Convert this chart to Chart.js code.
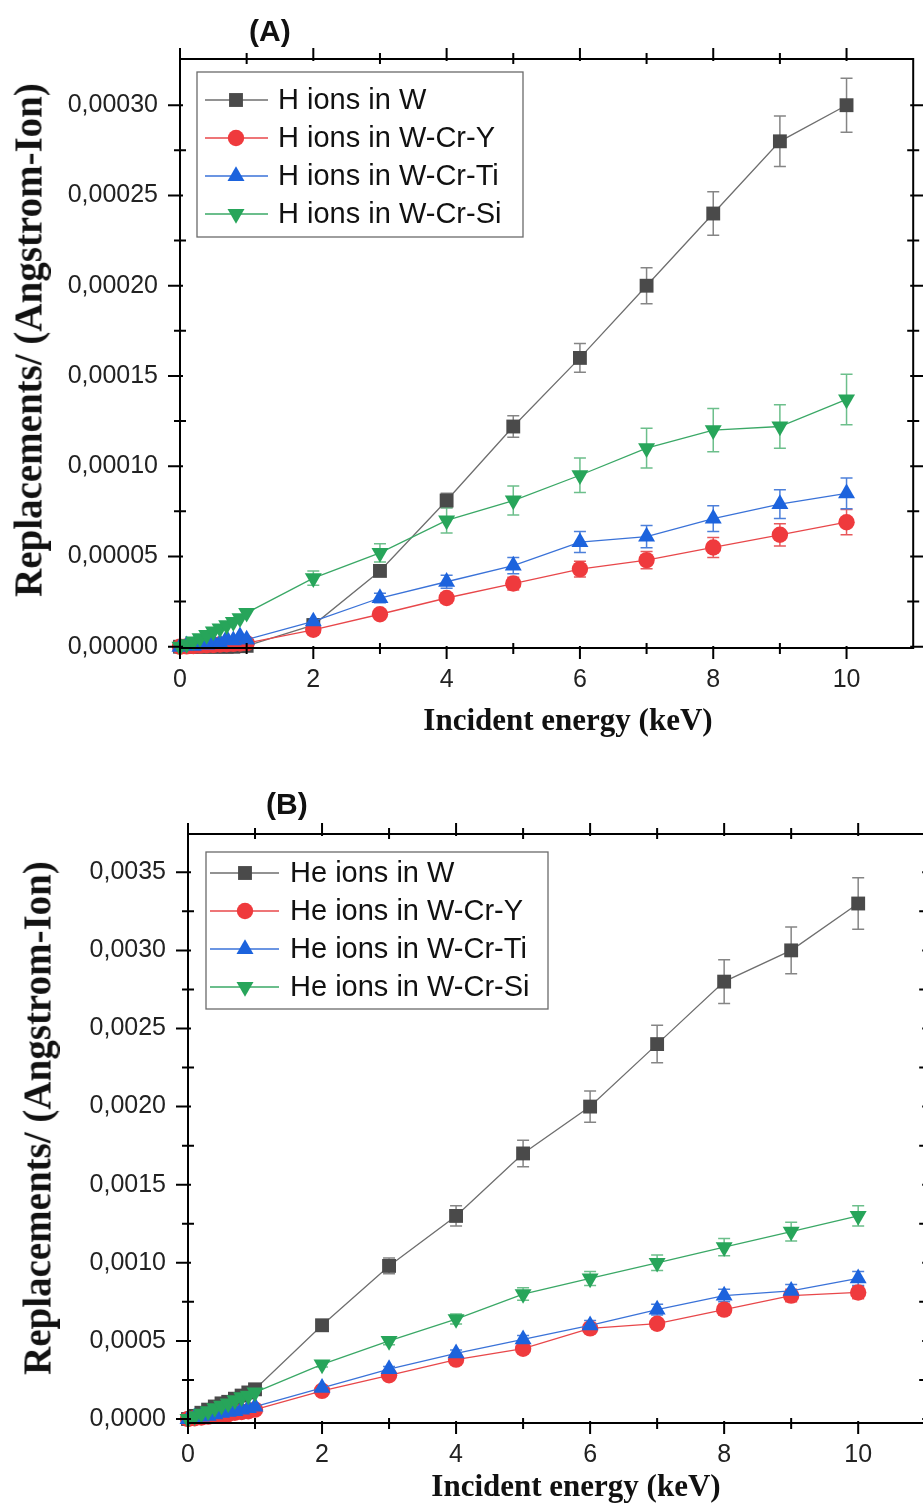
<!DOCTYPE html>
<html>
<head>
<meta charset="utf-8">
<script src="https://cdn.jsdelivr.net/npm/chart.js@4.4.1/dist/chart.umd.min.js"></script>
<style>
html, body { margin:0; padding:0; background:#fff; }
body { position:relative; width:923px; height:1512px; overflow:hidden; }
canvas { position:absolute; left:0; }
#chartA { top:0; }
#chartB { top:770px; }
.panel { position:absolute; font-family:"Liberation Sans", Arial, sans-serif; font-weight:bold; font-size:30px; line-height:30px; color:#111; }
.ttl { position:absolute; font-family:"Liberation Serif", "Times New Roman", serif; font-weight:bold; color:#111; white-space:nowrap; transform:translate(-50%,-50%); }
.ttl.y { font-size:39px; transform:translate(-50%,-50%) rotate(-90deg); }
.ttl.x { font-size:31px; }
</style>
</head>
<body>
<canvas id="chartA" width="923" height="770"></canvas>
<canvas id="chartB" width="935" height="742"></canvas>
<div class="panel" style="left:249px;top:16px">(A)</div>
<div class="panel" style="left:266px;top:789px">(B)</div>
<div class="ttl y" style="left:28px;top:340px">Replacements/ (Angstrom-Ion)</div>
<div class="ttl x" style="left:568px;top:720px">Incident energy (keV)</div>
<div class="ttl y" style="left:37px;top:1118px">Replacements/ (Angstrom-Ion)</div>
<div class="ttl x" style="left:576px;top:1486px">Incident energy (keV)</div>
<script>
// ---- data (energy in keV) ----
const energy = [0, 0.1, 0.2, 0.3, 0.4, 0.5, 0.6, 0.7, 0.8, 0.9, 1, 2, 3, 4, 5, 6, 7, 8, 9, 10];

// (A) H ions
const namesA = ["H ions in W", "H ions in W-Cr-Y", "H ions in W-Cr-Ti", "H ions in W-Cr-Si"];
const hW     = [0, 0, 0, 0, 0, 0, 0, 0, 0, 0.0000003, 0.0000005, 0.000012, 0.000042, 0.000081, 0.000122, 0.00016, 0.0002, 0.00024, 0.00028, 0.0003];
const hWCrY  = [0, 0.0000002, 0.0000004, 0.0000006, 0.0000008, 0.000001, 0.0000012, 0.0000014, 0.0000016, 0.0000018, 0.000002, 0.0000094, 0.000018, 0.000027, 0.000035, 0.000043, 0.000048, 0.000055, 0.000062, 0.000069];
const hWCrTi = [0, 0.0000008, 0.0000005, 0.0000018, 0.0000012, 0.0000028, 0.000002, 0.0000045, 0.0000035, 0.0000058, 0.000004, 0.000014, 0.000027, 0.000036, 0.000045, 0.000058, 0.000061, 0.000071, 0.000079, 0.000085];
const hWCrSi = [0, 0.0000015, 0.000003, 0.0000048, 0.0000065, 0.0000085, 0.0000102, 0.000012, 0.0000138, 0.0000158, 0.0000188, 0.000038, 0.000052, 0.00007, 0.000081, 0.000095, 0.00011, 0.00012, 0.000122, 0.000137];
const hWErr     = [0, 0, 0, 0, 0, 0, 0, 0, 0, 0, 0, 0.0000006, 0.000002, 0.000004, 0.000006, 0.000008, 0.00001, 0.000012, 0.000014, 0.000015];
const hWCrYErr  = [0, 0, 0, 0, 0, 0, 0, 0, 0, 0, 0, 0.000001, 0.0000018, 0.0000027, 0.0000035, 0.0000043, 0.0000048, 0.0000055, 0.0000062, 0.000007];
const hWCrTiErr = [0, 0, 0, 0, 0, 0, 0, 0, 0, 0, 0, 0.0000014, 0.0000027, 0.0000036, 0.0000045, 0.0000058, 0.0000061, 0.0000071, 0.0000079, 0.0000085];
const hWCrSiErr = [0, 0, 0, 0, 0, 0, 0, 0, 0, 0, 0, 0.000004, 0.000005, 0.000007, 0.000008, 0.0000095, 0.000011, 0.000012, 0.000012, 0.000014];

// (B) He ions
const namesB = ["He ions in W", "He ions in W-Cr-Y", "He ions in W-Cr-Ti", "He ions in W-Cr-Si"];
const heW     = [0, 0.00002, 0.00004, 0.00006, 0.00008, 0.0001, 0.00011, 0.00013, 0.00015, 0.00017, 0.00019, 0.0006, 0.00098, 0.0013, 0.0017, 0.002, 0.0024, 0.0028, 0.003, 0.0033];
const heWCrY  = [0, 0.000005, 0.00001, 0.000015, 0.00002, 0.000025, 0.00003, 0.00004, 0.000045, 0.00005, 0.00006, 0.00018, 0.00028, 0.00038, 0.00045, 0.00058, 0.00061, 0.0007, 0.00079, 0.00081];
const heWCrTi = [0, 0.00001, 0.000015, 0.00002, 0.00003, 0.00004, 0.000045, 0.00005, 0.00006, 0.00007, 0.00008, 0.0002, 0.00032, 0.00042, 0.00051, 0.0006, 0.0007, 0.00079, 0.00082, 0.0009];
const heWCrSi = [0, 0.000018, 0.000035, 0.00005, 0.00007, 0.000085, 0.0001, 0.00012, 0.00014, 0.00015, 0.00017, 0.00035, 0.0005, 0.00064, 0.0008, 0.0009, 0.001, 0.0011, 0.0012, 0.0013];
const heWErr     = [0, 0, 0, 0, 0, 0, 0, 0, 0, 0, 0.00001, 0.00003, 0.00005, 0.000065, 0.000085, 0.0001, 0.00012, 0.00014, 0.00015, 0.000165];
const heWCrYErr  = [0, 0, 0, 0, 0, 0, 0, 0, 0, 0, 0, 0.00001, 0.000015, 0.00002, 0.000022, 0.000029, 0.00003, 0.000035, 0.00004, 0.00004];
const heWCrTiErr = [0, 0, 0, 0, 0, 0, 0, 0, 0, 0, 0, 0.00001, 0.000016, 0.000021, 0.000025, 0.00003, 0.000035, 0.00004, 0.000041, 0.000045];
const heWCrSiErr = [0, 0, 0, 0, 0, 0, 0, 0, 0, 0, 0, 0.000017, 0.000025, 0.000032, 0.00004, 0.000045, 0.00005, 0.000055, 0.00006, 0.000065];

// ---- ticks ----
const xMajor = [0, 2, 4, 6, 8, 10];
const xMinor = [1, 3, 5, 7, 9];
const yMajorA  = [0, 0.00005, 0.0001, 0.00015, 0.0002, 0.00025, 0.0003];
const yLabelsA = ["0,00000", "0,00005", "0,00010", "0,00015", "0,00020", "0,00025", "0,00030"];
const yMinorA  = [0.000025, 0.000075, 0.000125, 0.000175, 0.000225, 0.000275];
const yMajorB  = [0, 0.0005, 0.001, 0.0015, 0.002, 0.0025, 0.003, 0.0035];
const yLabelsB = ["0,0000", "0,0005", "0,0010", "0,0015", "0,0020", "0,0025", "0,0030", "0,0035"];
const yMinorB  = [0.00025, 0.00075, 0.00125, 0.00175, 0.00225, 0.00275, 0.00325];

// ---- styles per series ----
const styles = [
  { borderColor: "#6e6e6e", pointStyle: "rect",     pointRadius: 9.8, pointBackgroundColor: "#4a4a4a", errColor: "#858585" },
  { borderColor: "#e8474a", pointStyle: "circle",   pointRadius: 8.2, pointBackgroundColor: "#ef3a3d", errColor: "#e8585b" },
  { borderColor: "#3a72d8", pointStyle: "triangle", pointRadius: 9.8, pointBackgroundColor: "#1c63dd", errColor: "#4d80da" },
  { borderColor: "#3aa866", pointStyle: "triangle", pointRadius: 9.8, pointBackgroundColor: "#27a55a", errColor: "#6cbf8b", pointRotation: 180 }
];

const tickFont = { family: "'Liberation Sans', Arial, sans-serif", size: 25 };

// error bars under the marks
const errorBars = {
  id: "errorBars",
  beforeDatasetsDraw(chart) {
    const { ctx, scales: { x, y } } = chart;
    ctx.save();
    ctx.lineWidth = 1.5;
    chart.data.datasets.forEach(ds => {
      ctx.strokeStyle = ds.errColor;
      ds.err.forEach((e, k) => {
        if (!e) return;
        const px = x.getPixelForValue(ds.data[k].x);
        const hi = y.getPixelForValue(ds.data[k].y + e);
        const lo = y.getPixelForValue(ds.data[k].y - e);
        ctx.beginPath();
        ctx.moveTo(px, hi); ctx.lineTo(px, lo);
        ctx.moveTo(px - 6, hi); ctx.lineTo(px + 6, hi);
        ctx.moveTo(px - 6, lo); ctx.lineTo(px + 6, lo);
        ctx.stroke();
      });
    });
    ctx.restore();
  }
};

// box frame with major/minor ticks on all four sides
const frameTicks = {
  id: "frameTicks",
  afterDraw(chart, args, o) {
    const { ctx, chartArea: a, scales: { x, y } } = chart;
    const seg = (x1, y1, x2, y2) => { ctx.moveTo(x1, y1); ctx.lineTo(x2, y2); };
    ctx.save();
    ctx.strokeStyle = "#000";
    ctx.lineWidth = 2;
    ctx.strokeRect(a.left, a.top, a.right - a.left, a.bottom - a.top);
    ctx.beginPath();
    o.xMajor.forEach(v => {
      const p = x.getPixelForValue(v);
      seg(p, a.bottom - 2, p, a.bottom + 11);
      seg(p, a.top + 2, p, a.top - 11);
    });
    o.xMinor.forEach(v => {
      const p = x.getPixelForValue(v);
      seg(p, a.bottom - 5, p, a.bottom + 6);
      seg(p, a.top + 5, p, a.top - 6);
    });
    o.yMajor.forEach(v => {
      const p = y.getPixelForValue(v);
      seg(a.left - 12, p, a.left + 3, p);
      seg(a.right + 12, p, a.right - 3, p);
    });
    o.yMinor.forEach(v => {
      const p = y.getPixelForValue(v);
      seg(a.left - 6, p, a.left + 6, p);
      seg(a.right + 6, p, a.right - 6, p);
    });
    ctx.stroke();
    ctx.restore();
  }
};

// framed legend inside the plot area
const boxLegend = {
  id: "boxLegend",
  afterDraw(chart, args, o) {
    const { ctx, chartArea: a } = chart;
    const x0 = a.left + o.dx, y0 = a.top + o.dy;
    ctx.save();
    ctx.fillStyle = "#fff";
    ctx.fillRect(x0, y0, o.w, o.h);
    ctx.strokeStyle = "#6a6a6a";
    ctx.lineWidth = 1.3;
    ctx.strokeRect(x0, y0, o.w, o.h);
    chart.data.datasets.forEach((ds, i) => {
      const cy = y0 + o.first + i * o.row;
      ctx.strokeStyle = ds.borderColor;
      ctx.lineWidth = 1.3;
      ctx.beginPath();
      ctx.moveTo(x0 + o.l0, cy); ctx.lineTo(x0 + o.l1, cy);
      ctx.stroke();
      ctx.fillStyle = ds.pointBackgroundColor;
      Chart.helpers.drawPoint(ctx, { pointStyle: ds.pointStyle, radius: ds.pointRadius, rotation: ds.pointRotation || 0, borderWidth: 0 }, x0 + o.mx, cy);
      ctx.fillStyle = "#111";
      ctx.font = "29px 'Liberation Sans', Arial, sans-serif";
      ctx.textBaseline = "middle";
      ctx.fillText(ds.label, x0 + o.tx, cy + 1);
    });
    ctx.restore();
  }
};

function buildChart(id, o) {
  const datasets = o.series.map((s, i) => Object.assign({
    label: o.names[i],
    data: energy.map((e, k) => ({ x: e, y: s[k] })),
    err: o.errs[i],
    borderWidth: 1.3,
    pointBorderWidth: 0,
    tension: 0,
    clip: false,
    order: 4 - i
  }, styles[i]));

  return new Chart(document.getElementById(id), {
    type: "line",
    data: { datasets },
    options: {
      responsive: false,
      animation: false,
      devicePixelRatio: 1,
      layout: { padding: { top: o.padTop, right: o.padRight, left: 0, bottom: 0 } },
      scales: {
        x: {
          type: "linear", min: 0, max: 11,
          afterBuildTicks: sc => { sc.ticks = xMajor.map(v => ({ value: v })); },
          afterFit: sc => { sc.height = o.xH; },
          grid: { display: false, drawTicks: false },
          border: { display: false },
          ticks: { padding: 17, color: "#222", font: tickFont, maxRotation: 0, callback: v => String(v) }
        },
        y: {
          type: "linear", min: o.ymin, max: o.ymax,
          afterBuildTicks: sc => { sc.ticks = o.yMajor.map(v => ({ value: v })); },
          afterFit: sc => { sc.width = o.yW; },
          grid: { display: false, drawTicks: false },
          border: { display: false },
          ticks: { padding: 22, color: "#222", font: tickFont, callback: (v, i) => o.yLabels[i] }
        }
      },
      plugins: {
        legend: { display: false },
        tooltip: { enabled: false },
        frameTicks: { xMajor, xMinor, yMajor: o.yMajor, yMinor: o.yMinor },
        boxLegend: o.legend
      }
    },
    plugins: [errorBars, frameTicks, boxLegend]
  });
}

buildChart("chartA", {
  names: namesA,
  series: [hW, hWCrY, hWCrTi, hWCrSi],
  errs: [hWErr, hWCrYErr, hWCrTiErr, hWCrSiErr],
  yMajor: yMajorA, yLabels: yLabelsA, yMinor: yMinorA,
  ymin: -0.0000007, ymax: 0.0003256,
  padTop: 59, padRight: 5, yW: 180, xH: 122,
  legend: { dx: 17, dy: 13, w: 326, h: 165, first: 28, row: 38, l0: 8, l1: 71, mx: 39, tx: 81 }
});

buildChart("chartB", {
  names: namesB,
  series: [heW, heWCrY, heWCrTi, heWCrSi],
  errs: [heWErr, heWCrYErr, heWCrTiErr, heWCrSiErr],
  yMajor: yMajorB, yLabels: yLabelsB, yMinor: yMinorB,
  ymin: -0.0000256, ymax: 0.003745,
  padTop: 64, padRight: 9, yW: 188, xH: 89,
  legend: { dx: 18, dy: 18, w: 342, h: 157, first: 21, row: 38, l0: 4, l1: 73, mx: 39, tx: 84 }
});
</script>
</body>
</html>
